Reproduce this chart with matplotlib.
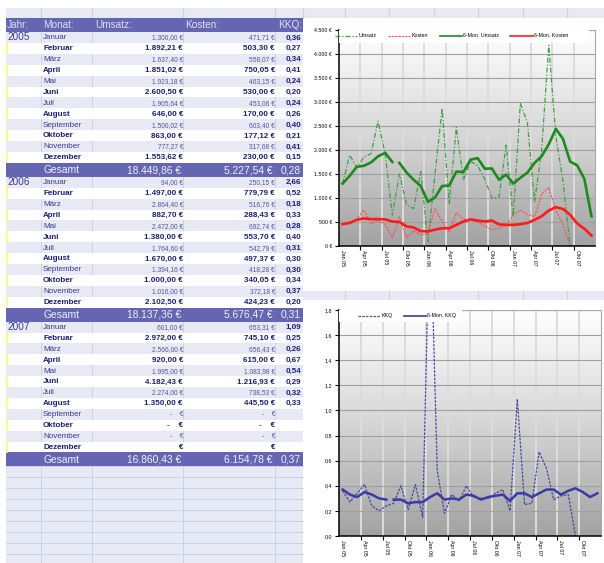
import numpy as np
import matplotlib
matplotlib.use("Agg")
import matplotlib.pyplot as plt
from matplotlib.patches import Rectangle
from matplotlib.lines import Line2D
from matplotlib.colors import LinearSegmentedColormap

W, H = 604, 563

# ---- data ----
years = ["2005", "2006", "2007"]
months = ["Januar", "Februar", "März", "April", "Mai", "Juni", "Juli", "August",
          "September", "Oktober", "November", "Dezember"]

umsatz_2005 = [1300.00, 1892.21, 1637.40, 1851.02, 1923.18, 2600.50,
               1905.64, 646.00, 1500.02, 863.00, 777.27, 1553.62]
umsatz_2006 = [94.00, 1497.00, 2864.40, 882.70, 2472.00, 1380.00,
               1764.60, 1670.00, 1394.16, 1000.00, 1016.00, 2102.50]
umsatz_2007 = [601.00, 2972.00, 2566.00, 920.00, 1995.00, 4182.43,
               2274.00, 1350.00, 0, 0, 0, None]

kosten_2005 = [471.71, 503.30, 558.07, 750.05, 463.15, 530.00,
               453.06, 170.00, 603.40, 177.12, 317.68, 230.00]
kosten_2006 = [250.15, 779.79, 516.76, 288.43, 692.74, 553.70,
               542.79, 497.37, 418.28, 340.05, 372.18, 424.23]
kosten_2007 = [653.31, 745.10, 656.43, 615.00, 1083.98, 1216.93,
               738.53, 445.50, 0, 0, 0, None]

kkq_2005 = [0.36, 0.27, 0.34, 0.41, 0.24, 0.20, 0.24, 0.26, 0.40, 0.21, 0.41, 0.15]
kkq_2006 = [2.66, 0.52, 0.18, 0.33, 0.28, 0.40, 0.31, 0.30, 0.30, 0.34, 0.37, 0.20]
kkq_2007 = [1.09, 0.25, 0.26, 0.67, 0.54, 0.29, 0.32, 0.33, 0.00, None, None, None]

umsatz_total = [18449.86, 18137.36, 16860.43]
kosten_total = [5227.54, 5676.47, 6154.78]
kkq_total = [0.28, 0.31, 0.37]

# 6-month averages as drawn in the charts
ma_umsatz = [1300, 1460, 1650, 1670, 1740, 1870, 1940, 1750, 1730, 1530, 1380, 1250,
             920, 1010, 1250, 1260, 1550, 1540, 1800, 1830, 1610, 1615, 1380, 1490,
             1300, 1420, 1530, 1730, 1870, 2120, 2440, 2230, 1760, 1680, 1400, 620]
ma_kosten = [455, 480, 545, 575, 560, 560, 555, 510, 500, 410, 385, 310,
             305, 340, 370, 370, 440, 510, 555, 530, 510, 530, 450, 440,
             440, 455, 480, 545, 620, 740, 810, 770, 650, 470, 360, 220]
ma_kkq = [0.37, 0.33, 0.31, 0.35, 0.33, 0.30, 0.29, 0.29, 0.29, 0.26, 0.27, 0.27,
          0.31, 0.34, 0.29, 0.30, 0.29, 0.33, 0.32, 0.29, 0.31, 0.32, 0.33, 0.28,
          0.34, 0.34, 0.31, 0.34, 0.37, 0.37, 0.33, 0.36, 0.38, 0.35, 0.31, 0.34]

xlabels = ["Jan 05", "Apr 05", "Jul 05", "Okt 05", "Jan 06", "Apr 06",
           "Jul 06", "Okt 06", "Jan 07", "Apr 07", "Jul 07", "Okt 07"]

umsatz = [umsatz_2005, umsatz_2006, umsatz_2007]
kosten = [kosten_2005, kosten_2006, kosten_2007]
kkq = [kkq_2005, kkq_2006, kkq_2007]

# ---- colours / fonts ----
LAV = "#e7e9f4"
GRID = "#cdd1e6"
BAND = "#6566b3"
NAVY = "#1d1d7a"
TFONT = ["Liberation Sans Narrow", "Liberation Sans", "DejaVu Sans"]
CFONT = ["Liberation Sans", "DejaVu Sans"]


def de(v, dec=2):
    s = f"{v:,.{dec}f}"
    return s.replace(",", "X").replace(".", ",").replace("X", ".")


def money(v):
    if v is None:
        return "€"
    if v == 0:
        return "-    €"
    return de(v) + " €"


fig = plt.figure(figsize=(W / 100, H / 100), dpi=100)
fig.patch.set_facecolor("white")

bg = fig.add_axes([0, 0, 1, 1])
bg.set_xlim(0, W)
bg.set_ylim(H, 0)
bg.axis("off")

COLS = [41, 92, 183, 275]

# sheet strips
bg.add_patch(Rectangle((6, 8), W - 6, 10, fc=LAV, ec="none", zorder=0))
bg.add_patch(Rectangle((6, 18), 297, H - 18, fc=LAV, ec="none", zorder=0))
bg.add_patch(Rectangle((303, 291), W - 303, 9, fc=LAV, ec="none", zorder=0))
for xx in COLS + [303, 345, 389, 434, 478, 523, 567]:
    bg.plot([xx, xx], [8, 18], color=GRID, lw=0.8, zorder=1)
for xx in [345, 389, 434, 478, 523, 567]:
    bg.plot([xx, xx], [291, 300], color=GRID, lw=0.8, zorder=1)

# chart panels
bg.add_patch(Rectangle((304, 18), W - 304, 273, fc="white", ec="none", zorder=1))
bg.add_patch(Rectangle((304, 300), W - 304, H - 300, fc="white", ec="none", zorder=1))

# header
bg.add_patch(Rectangle((6, 18), 297, 14, fc=BAND, ec="none", zorder=2))
for txt, xx in zip(["Jahr:", "Monat:", "Umsatz:", "Kosten:", "KKQ:"], [7, 43, 95, 185, 278]):
    bg.text(xx, 25.5, txt, fontsize=7.2, color="#dedff3", va="center", ha="left",
            family=TFONT, zorder=3)

row_h = 10.9
top = 32.0
for b, year in enumerate(years):
    for m in range(12):
        y0 = top + m * row_h
        yc = y0 + row_h / 2 + 0.4
        bold = m % 2 == 1
        if bold:
            bg.add_patch(Rectangle((6, y0), 297, row_h, fc="white", ec="none", zorder=2))
            bg.plot([6.6, 6.6], [y0 + 0.5, y0 + row_h - 0.5], color="#ffff66", lw=1.3, zorder=3)
        else:
            for xx in COLS:
                bg.plot([xx, xx], [y0, y0 + row_h], color=GRID, lw=0.7, zorder=2)
        u = umsatz[b][m]
        k = kosten[b][m]
        q = kkq[b][m]
        if bold:
            kw = dict(fontsize=5.8, color=NAVY, fontweight="heavy", family=TFONT, zorder=4)
            vkw = kw
        else:
            kw = dict(fontsize=5.8, color="#3a3a8e", family=TFONT, zorder=4)
            vkw = dict(fontsize=4.8, color="#55559a", family=TFONT, zorder=4)
        bg.text(43, yc, months[m], ha="left", va="center", **kw)
        bg.text(183, yc, money(u), ha="right", va="center", **vkw)
        bg.text(275, yc, money(k), ha="right", va="center", **vkw)
        if u:
            bg.text(301, yc, de(q), ha="right", va="center", fontsize=5.8,
                    color=NAVY, fontweight="bold", family=TFONT, zorder=4)
    bg.text(7, top + 5.2, year, fontsize=7.2, color="#3a3a8e", ha="left", va="center",
            family=TFONT, zorder=4)
    gy = top + 12 * row_h
    bg.add_patch(Rectangle((6, gy), 297, 14, fc=BAND, ec="none", zorder=2))
    gkw = dict(fontsize=7.4, color="#eeeefa", va="center", family=TFONT, zorder=4)
    bg.text(43, gy + 7.3, "Gesamt", ha="left", **gkw)
    bg.text(181, gy + 7.3, de(umsatz_total[b]) + " €", ha="right", **gkw)
    bg.text(273, gy + 7.3, de(kosten_total[b]) + " €", ha="right", **gkw)
    bg.text(301, gy + 7.3, de(kkq_total[b]), ha="right", **gkw)
    top = gy + 14

# empty sheet rows below
yy = top
while yy < H:
    bg.plot([6, 303], [yy, yy], color=GRID, lw=0.7, zorder=2)
    for xx in COLS:
        bg.plot([xx, xx], [yy, min(yy + 11, H)], color=GRID, lw=0.7, zorder=2)
    yy += 11

# ---- charts ----
x = np.arange(36)


def series(parts):
    out = []
    for p in parts:
        out += [np.nan if v is None else v for v in p]
    return np.array(out, dtype=float)


s_umsatz = series(umsatz)
s_kosten = series(kosten)
s_kkq = series(kkq)

grad = LinearSegmentedColormap.from_list("g", ["#a2a2a2", "#d6d6d6", "#ffffff"])


def style_axes(ax, ymax, ystep, fmt):
    ax.imshow(np.linspace(0, 1, 256).reshape(-1, 1), cmap=grad, origin="lower",
              extent=[0, 1, 0, 1], transform=ax.transAxes, aspect="auto", zorder=0)
    ax.set_xlim(-0.5, 35.5)
    ax.set_ylim(0, ymax)
    ax.set_xticks(np.arange(0, 36, 3))
    ax.set_xticklabels(xlabels, rotation=270, fontsize=3.8, family=CFONT)
    ax.set_xticks(np.arange(2.5, 35, 3), minor=True)
    ax.tick_params(axis="x", which="major", length=0, pad=3)
    ax.tick_params(axis="x", which="minor", length=3, width=0.8, direction="out")
    yt = np.arange(0, ymax + ystep / 2, ystep)
    ax.set_yticks(yt)
    ax.set_yticklabels([fmt(v) for v in yt], fontsize=3.8, family=CFONT)
    ax.tick_params(axis="y", length=3, width=0.8, pad=2)
    ax.grid(axis="x", which="minor", color="#dcdcdc", lw=1.4, zorder=0.5)
    ax.grid(axis="y", which="major", color="#a0a0a0", lw=0.8, zorder=0.5)
    ax.set_axisbelow(True)
    for sp in ["left", "bottom"]:
        ax.spines[sp].set_color("black")
        ax.spines[sp].set_linewidth(1.1)
    for sp in ["top", "right"]:
        ax.spines[sp].set_color("#a8a8a8")
        ax.spines[sp].set_linewidth(0.8)


def px_box(l, t, r, b):
    return [l / W, 1 - b / H, (r - l) / W, (b - t) / H]


def plot_split(ax, values, cut, **kw):
    # the averages are drawn with one short break, as in the sheet's chart
    ax.plot(x[:cut], values[:cut], **kw)
    ax.plot(x[cut:], values[cut:], **kw)


ax1 = fig.add_axes(px_box(339, 30, 595, 246))
style_axes(ax1, 4500, 500, lambda v: de(v, 0) + " €")
ax1.plot(x, s_umsatz, color="#449f44", lw=0.9, ls=(0, (4, 1.5, 1, 1.5)), zorder=2)
ax1.plot(x, s_kosten, color="#ff5050", lw=0.8, ls=(0, (2, 1)), zorder=2)
plot_split(ax1, ma_umsatz, 8, color="#1d8a1d", lw=1.9, zorder=2)
ax1.plot(x, ma_kosten, color="#ff1a1a", lw=1.9, zorder=2)
ax1.add_patch(Rectangle((0, 1 - 13 / 216), 0.975, 13 / 216, transform=ax1.transAxes,
                        fc="white", ec="none", zorder=2.6, clip_on=False))
h1 = [Line2D([], [], color="#449f44", lw=0.9, ls=(0, (4, 1.5, 1, 1.5))),
      Line2D([], [], color="#ff5050", lw=0.8, ls=(0, (2, 1))),
      Line2D([], [], color="#1d8a1d", lw=1.2),
      Line2D([], [], color="#ff1a1a", lw=1.2)]
ax1.legend(h1, ["Umsatz", "Kosten", "6-Mon. Umsatz", "6-Mon. Kosten"], ncol=4,
           loc="upper center", bbox_to_anchor=(0.44, 1.0), frameon=False,
           prop={"size": 3.8, "family": CFONT}, handlelength=4.2, columnspacing=2.2,
           handletextpad=0.2, borderaxespad=0.25)

ax2 = fig.add_axes(px_box(339, 310, 601, 536))
style_axes(ax2, 1.8, 0.2, lambda v: de(v, 1))
ax2.plot(x, s_kkq, color="#4848a6", lw=0.9, ls=(0, (2, 1)), zorder=2)
plot_split(ax2, ma_kkq, 7, color="#3a3aa8", lw=1.8, zorder=2)
ax2.add_patch(Rectangle((0, 1 - 12 / 226), (462 - 339) / 262, 12 / 226, transform=ax2.transAxes,
                        fc="white", ec="none", zorder=2.6, clip_on=False))
h2 = [Line2D([], [], color="#4848a6", lw=0.9, ls=(0, (2, 1))),
      Line2D([], [], color="#3a3aa8", lw=1.2)]
ax2.legend(h2, ["KKQ", "6-Mon. KKQ"], ncol=2, loc="upper left",
           bbox_to_anchor=(0.06, 1.0), frameon=False,
           prop={"size": 3.8, "family": CFONT}, handlelength=4.2, columnspacing=2.2,
           handletextpad=0.2, borderaxespad=0.25)

fig.savefig("out.png", dpi=100)
